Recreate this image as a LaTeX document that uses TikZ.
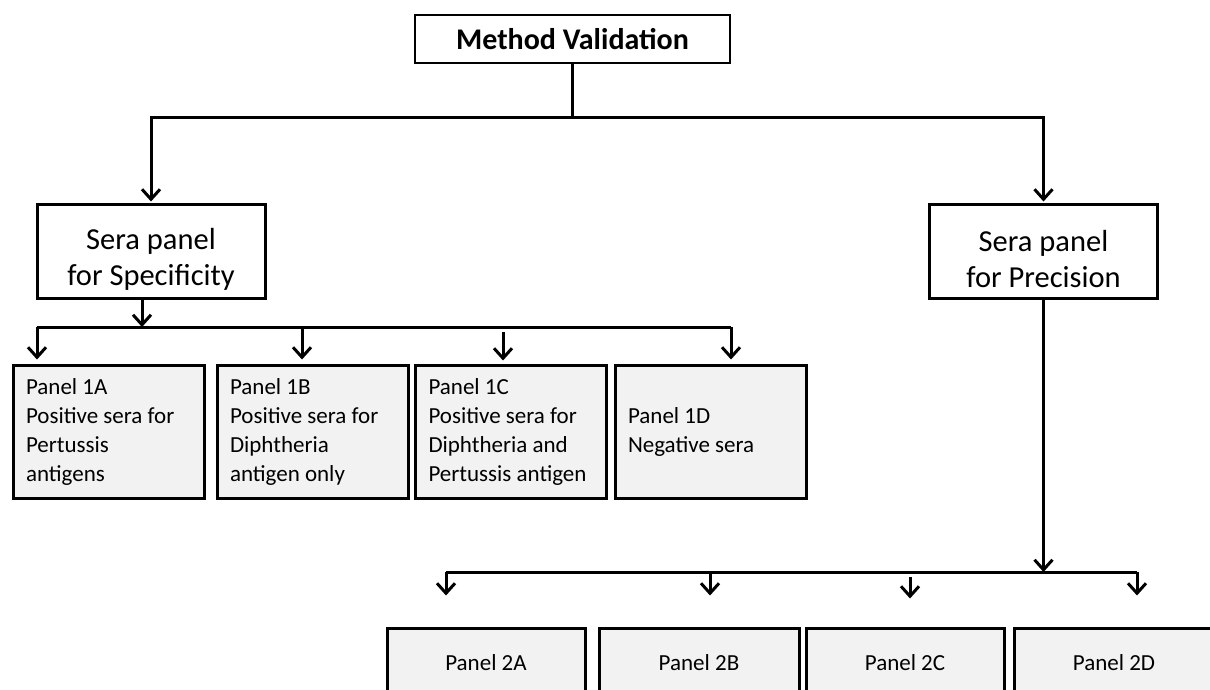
\documentclass[tikz,border=0pt]{standalone}
\usepackage{fontspec}
\setmainfont{Carlito}
\usetikzlibrary{arrows.meta}
\definecolor{panelgray}{HTML}{F2F2F2}
\newcommand{\lowstrut}{\rule{0pt}{37pt}}
\tikzset{
  topbox/.style={draw, line width=2pt, fill=white, minimum width=315pt, minimum height=48pt,
    font=\fontsize{30}{36}\selectfont\bfseries},
  midbox/.style={draw, line width=3pt, fill=white, minimum width=228pt, minimum height=94pt,
    align=center, font=\fontsize{30.5}{36}\selectfont},
  panel/.style={draw, line width=3pt, fill=panelgray, text width=165pt, inner xsep=13pt,
    minimum height=133pt, align=flush left, font=\fontsize{23}{29}\selectfont},
  panelb/.style={draw, line width=3pt, fill=panelgray, minimum height=70pt,
    font=\fontsize{23}{29}\selectfont},
}
\begin{document}
\begin{tikzpicture}[x=1pt, y=-1pt, line width=3pt, >={Straight Barb[length=10pt,width=18pt]}]
\useasboundingbox (0,0) rectangle (1210,690);
\clip (0,0) rectangle (1210,690);

\node[topbox] (mv) at (572.5,39) {Method Validation};
\node[midbox] (spec) at (151,251) {\lowstrut Sera panel\\for Specificity};
\node[midbox] (prec) at (1043.5,251) {\lowstrut Sera panel\\for Precision};

\node[panel] (p1a) at (108.5,431.5) {Panel 1A\\Positive sera for\\Pertussis\\antigens};
\node[panel] (p1b) at (312.5,431.5) {Panel 1B\\Positive sera for\\Diphtheria\\antigen only};
\node[panel] (p1c) at (511,431.5) {Panel 1C\\Positive sera for\\Diphtheria and\\Pertussis antigen};
\node[panel] (p1d) at (710.5,431.5) {Panel 1D\\Negative sera};

\node[panelb, minimum width=198pt] (p2a) at (486,663) {Panel 2A};
\node[panelb, minimum width=200pt] (p2b) at (699,663) {Panel 2B};
\node[panelb, minimum width=198pt] (p2c) at (905,663) {Panel 2C};
\node[panelb, minimum width=200pt] (p2d) at (1114,663) {Panel 2D};

\draw (mv.south) -- (mv.south |- 0,118) coordinate (b0);
\draw[->, shorten >=1pt] (b0) -| (spec.north);
\draw[->, shorten >=1pt] (b0) -| (prec.north);

\foreach \p/\x in {p1a/37,p1b/302,p1c/503,p1d/731} \coordinate (t\p) at (\x,327);
\draw[->] ([xshift=-9pt]spec.south) -- ([xshift=-9pt]spec.south |- tp1a);
\draw (tp1a) -- (tp1d);
\foreach \p in {p1a,p1b,p1d} \draw[->, shorten >=4pt] (t\p) -- (t\p |- \p.north);
\draw[->, shorten <=5pt, shorten >=3pt] (tp1c) -- (tp1c |- p1c.north);

\foreach \p/\x in {p2a/446,p2b/710,p2c/910,p2d/1137} \coordinate (t\p) at (\x,572);
\draw[->] (prec.south) -- (prec.south |- tp2a);
\draw (tp2a) -- (tp2d);
\foreach \p in {p2a,p2b,p2d} \draw[->, shorten >=31pt] (t\p) -- (t\p |- \p.north);
\draw[->, shorten <=5pt, shorten >=28pt] (tp2c) -- (tp2c |- p2c.north);
\end{tikzpicture}
\end{document}
